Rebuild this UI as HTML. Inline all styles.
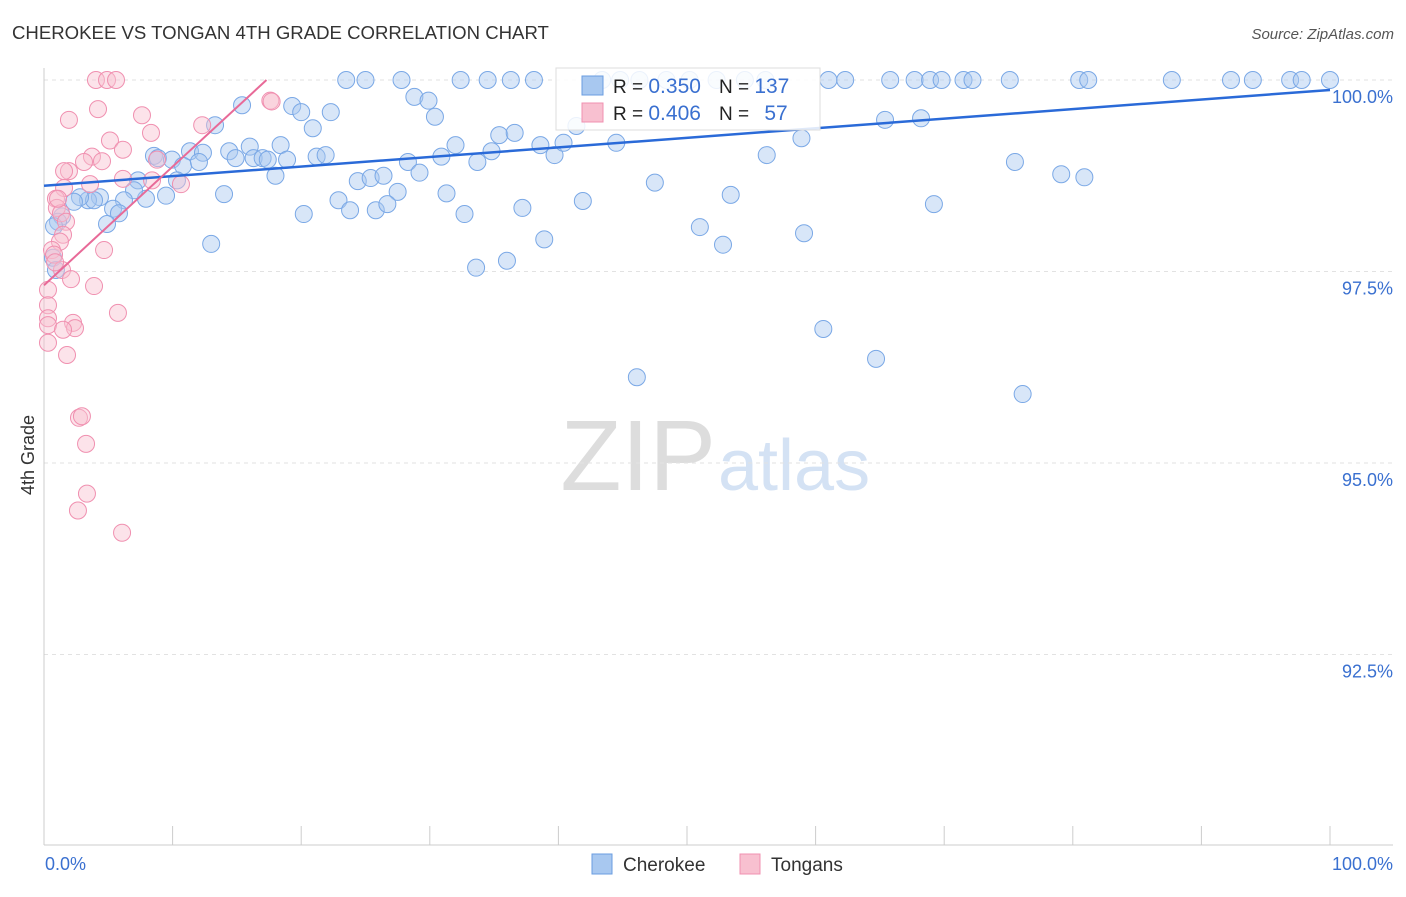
<!DOCTYPE html>
<html><head><meta charset="utf-8"><style>
body{margin:0;background:#fff;font-family:"Liberation Sans",sans-serif;}
svg text{font-family:"Liberation Sans",sans-serif;}
</style></head><body>
<svg id="chart" width="1406" height="892">
<text x="12" y="39" font-size="18.6" fill="#333">CHEROKEE VS TONGAN 4TH GRADE CORRELATION CHART</text>
<text x="1394" y="39" font-size="15" fill="#555" font-style="italic" text-anchor="end">Source: ZipAtlas.com</text>
<text x="716" y="490" font-size="100" fill="#ddd" text-anchor="end" font-family="Liberation Serif">ZIP</text>
<text x="718" y="490" font-size="72" fill="#d4e2f4">atlas</text>
<text transform="translate(34,455) rotate(-90)" font-size="18" fill="#333" text-anchor="middle">4th Grade</text>
<g id="grid"></g><g id="pts"></g><g id="lines"></g>
<g>
<rect x="556" y="68" width="264" height="62" fill="#fff" fill-opacity="0.85" stroke="#ddd"/>
<rect x="582" y="76" width="21" height="19" fill="#a8c8f0" stroke="#6a9de0"/>
<rect x="582" y="103" width="21" height="19" fill="#f8c0d0" stroke="#f090b0"/>
<text x="613" y="93" font-size="19" fill="#222">R = <tspan fill="#3a70d0" font-size="21">0.350</tspan><tspan dx="18">N = </tspan><tspan fill="#3a70d0" font-size="21">137</tspan></text>
<text x="613" y="120" font-size="19" fill="#222">R = <tspan fill="#3a70d0" font-size="21">0.406</tspan><tspan dx="18">N = </tspan><tspan fill="#3a70d0" font-size="21" dx="10">57</tspan></text>
</g>
<g>
<rect x="592" y="854" width="20" height="20" fill="#a8c8f0" stroke="#6a9de0"/>
<text x="623" y="871" font-size="19" fill="#333">Cherokee</text>
<rect x="740" y="854" width="20" height="20" fill="#f8c0d0" stroke="#f090b0"/>
<text x="771" y="871" font-size="19" fill="#333">Tongans</text>
</g>
</svg>
<script>
const yTicks=[100,97.5,95,92.5];
const yTickLabels=["100.0%","97.5%","95.0%","92.5%"];
const blueX=[23.5,25.0,27.8,32.4,34.5,36.3,38.1,43.4,44.8,46.3,48.4,50.2,52.3,54.5,56.1,61.0,62.3,65.8,67.7,68.9,69.8,71.5,72.2,75.1,80.5,81.2,87.7,92.3,94.0,96.9,97.8,100,
15.4,19.3,20.0,22.3,28.8,29.9,30.4,20.9,13.3,41.4,65.4,68.2,
8.55,8.86,11.35,12.36,9.95,10.81,12.05,14.4,14.9,16.0,16.3,17.0,17.4,18.4,18.9,21.2,21.9,28.3,30.9,32.0,33.7,34.8,35.4,36.6,38.6,39.7,40.4,44.5,56.2,58.9,75.5,79.1,80.9,
7.31,10.34,9.49,7.93,7.0,6.22,4.35,3.42,3.89,2.8,2.33,5.37,5.83,4.9,1.4,1.09,0.78,0.7,0.93,14.0,18.0,24.4,25.4,26.4,27.5,29.2,31.3,22.9,23.8,25.8,26.7,32.7,37.2,41.9,47.5,53.4,69.2,20.2,
13.0,33.6,36.0,38.9,51.0,52.8,59.1,60.6,64.7,46.1,76.1];
const blueY=[100,100,100,100,100,100,100,100,100,100,100,100,100,100,100,100,100,100,100,100,100,100,100,100,100,100,100,100,100,100,100,100,
99.67,99.66,99.58,99.58,99.78,99.73,99.52,99.37,99.41,99.40,99.48,99.50,
99.01,98.98,99.07,99.05,98.96,98.88,98.93,99.07,98.98,99.13,98.98,98.98,98.96,99.15,98.96,99.00,99.02,98.93,99.00,99.15,98.93,99.07,99.28,99.31,99.15,99.02,99.18,99.18,99.02,99.24,98.93,98.77,98.73,
98.69,98.69,98.49,98.45,98.56,98.43,98.47,98.43,98.43,98.47,98.41,98.32,98.26,98.12,98.22,98.15,98.09,97.68,97.52,98.51,98.75,98.68,98.72,98.75,98.54,98.79,98.52,98.43,98.30,98.30,98.38,98.25,98.33,98.42,98.66,98.50,98.38,98.25,
97.86,97.55,97.64,97.92,98.08,97.85,98.00,96.75,96.36,96.12,95.90];
const pinkX=[4.04,4.9,5.6,4.2,1.94,7.62,5.13,8.32,12.3,17.6,6.14,3.73,4.51,3.11,1.94,1.56,6.14,3.58,8.4,10.65,1.56,0.93,1.0,1.32,1.71,1.48,1.24,4.67,0.62,0.78,1.4,2.1,3.89,0.31,0.31,0.31,0.31,5.75,2.26,2.41,1.48,0.31,1.79,2.72,2.95,3.27,3.34,2.64,6.07,8.79,17.7,0.86,1.09];
const pinkY=[100,100,100,99.62,99.48,99.54,99.21,99.31,99.41,99.73,99.09,99.00,98.94,98.93,98.81,98.81,98.71,98.64,98.69,98.64,98.59,98.45,98.33,98.26,98.15,97.98,97.89,97.78,97.78,97.72,97.52,97.40,97.31,97.26,97.06,96.89,96.80,96.96,96.83,96.76,96.74,96.57,96.41,95.59,95.61,95.25,94.60,94.38,94.09,98.96,99.72,97.62,98.45];
const blueLine=[98.62,99.87];
const pinkLine=[97.32,100.0,17.3];
const L=44,R=1330,T=80,PB=845;
const xs=v=>L+(R-L)*v/100;
const ys=v=>T+(100-v)*76.6;
const NS="http://www.w3.org/2000/svg";
function mk(tag,attrs,parent){const e=document.createElementNS(NS,tag);for(const k in attrs)e.setAttribute(k,attrs[k]);document.getElementById(parent).appendChild(e);return e;}
yTicks.forEach((v,i)=>{
 const g=mk('line',{x1:L,x2:1393,y1:ys(v),y2:ys(v),stroke:'#e2e2e2','stroke-dasharray':'4,4'},'grid');
 
 
 const t=mk('text',{x:1393,y:ys(v)+23,'font-size':18,fill:'#3a70d0','text-anchor':'end'},'grid');
 t.textContent=yTickLabels[i];
 
 
});
let a=mk('line',{x1:L,x2:L,y1:68,y2:PB,stroke:'#ccc'},'grid');


a=mk('line',{x1:L,x2:1393,y1:PB,y2:PB,stroke:'#ccc'},'grid');


for(let i=1;i<=10;i++){const t=mk('line',{x1:xs(i*10),x2:xs(i*10),y1:826,y2:PB,stroke:'#ccc'},'grid');
 
 }
let xl=mk('text',{x:45,y:870,'font-size':18,fill:'#3a70d0'},'grid');xl.textContent='0.0%';


xl=mk('text',{x:1393,y:870,'font-size':18,fill:'#3a70d0','text-anchor':'end'},'grid');xl.textContent='100.0%';


blueX.forEach((x,i)=>{const c=mk('circle',{cx:xs(x),cy:ys(blueY[i]),r:8.5,fill:'#a8c8f0','fill-opacity':0.45,stroke:'#7aa8e6','stroke-width':1},'pts');
 
 });
pinkX.forEach((x,i)=>{const c=mk('circle',{cx:xs(x),cy:ys(pinkY[i]),r:8.5,fill:'#f8c0d0','fill-opacity':0.45,stroke:'#f090b0','stroke-width':1},'pts');
 
 });
let ln=mk('line',{x1:xs(0),y1:ys(blueLine[0]),x2:xs(100),y2:ys(blueLine[1]),stroke:'#2a6ad8','stroke-width':2.5},'lines');


ln=mk('line',{x1:xs(0),y1:ys(pinkLine[0]),x2:xs(pinkLine[2]),y2:ys(pinkLine[1]),stroke:'#e86a98','stroke-width':2},'lines');


</script>
</body></html>
